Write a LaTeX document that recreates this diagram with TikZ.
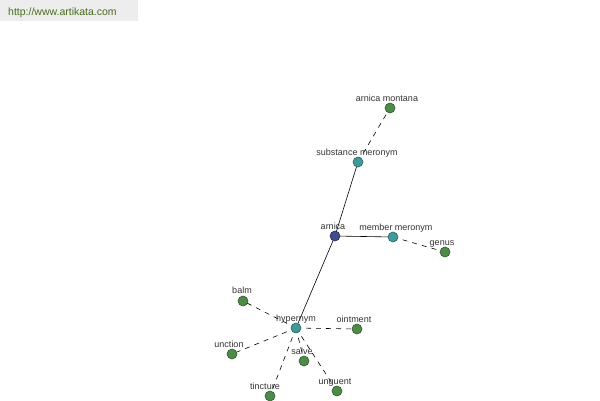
\documentclass[tikz,border=0pt]{standalone}
\usepackage{fontspec}
\setmainfont{Liberation Sans}
\definecolor{gnode}{HTML}{4E8A48}
\definecolor{gedge}{HTML}{2F5A2C}
\definecolor{tnode}{HTML}{3F9A9A}
\definecolor{tedge}{HTML}{2A6464}
\definecolor{bnode}{HTML}{404C8E}
\definecolor{bedge}{HTML}{262E5E}
\definecolor{lbl}{HTML}{333333}
\definecolor{hdr}{HTML}{4A6A20}
\tikzset{
  dot/.style={circle,inner sep=0pt,minimum size=10pt,line width=0.6pt},
  gdot/.style={dot,fill=gnode,draw=gedge},
  tdot/.style={dot,fill=tnode,draw=tedge},
  bdot/.style={dot,fill=bnode,draw=bedge},
  lab/.style={font=\fontsize{9}{9}\selectfont,text=lbl,inner sep=0pt,anchor=base},
  solidedge/.style={draw=black,line width=0.6pt},
  dashedge/.style={draw=black,line width=0.6pt,dashed,dash pattern=on 5pt off 5pt},
}
\begin{document}
\begin{tikzpicture}[x=1pt,y=-1pt]
\useasboundingbox (0,0) rectangle (600,400);
\fill[white] (0,0) rectangle (600,400);
\fill[black!7] (0,0) rectangle (138,21);
\node[font=\fontsize{10.5}{10.5}\selectfont,text=hdr,anchor=base west,inner sep=0pt] (hdrtext) at (8,15) {http://www.artikata.com};

% edges first
\coordinate (arnica) at (335,236);
\coordinate (subm) at (358,162);
\coordinate (arnm) at (390,108);
\coordinate (memm) at (393,237);
\coordinate (genus) at (445,252);
\coordinate (hyp) at (296,328);
\coordinate (balm) at (243,301);
\coordinate (oint) at (357,329);
\coordinate (unct) at (232,354);
\coordinate (salve) at (304,361);
\coordinate (tinct) at (270,396);
\coordinate (ungu) at (337,391);

\draw[solidedge] (arnica) -- (subm);
\draw[solidedge] (arnica) -- (memm);
\draw[solidedge] (arnica) -- (hyp);
\draw[dashedge] (subm) -- (arnm);
\draw[dashedge] (memm) -- (genus);
\draw[dashedge] (hyp) -- (balm);
\draw[dashedge] (hyp) -- (oint);
\draw[dashedge] (hyp) -- (unct);
\draw[dashedge] (hyp) -- (salve);
\draw[dashedge] (hyp) -- (tinct);
\draw[dashedge] (hyp) -- (ungu);

\node[bdot] (narnica) at (arnica) {};
\node[tdot] (nsubm) at (subm) {};
\node[gdot] (narnm) at (arnm) {};
\node[tdot] (nmemm) at (memm) {};
\node[gdot] (ngenus) at (genus) {};
\node[tdot] (nhyp) at (hyp) {};
\node[gdot] (nbalm) at (balm) {};
\node[gdot] (noint) at (oint) {};
\node[gdot] (nunct) at (unct) {};
\node[gdot] (nsalve) at (salve) {};
\node[gdot] (ntinct) at (tinct) {};
\node[gdot] (nungu) at (ungu) {};

\node[lab] (larnm) at (387,101) {arnica montana};
\node[lab] (lsubm) at (357,155) {substance meronym};
\node[lab] (larnica) at (333,229) {arnica};
\node[lab] (lmemm) at (396,230) {member meronym};
\node[lab] (lgenus) at (442,245) {genus};
\node[lab] (lbalm) at (242,293) {balm};
\node[lab] (lhyp) at (296,321) {hypernym};
\node[lab] (loint) at (354,322) {ointment};
\node[lab] (lunct) at (229,347) {unction};
\node[lab] (lsalve) at (302,354) {salve};
\node[lab] (ltinct) at (265,389) {tincture};
\node[lab] (lungu) at (335,384) {unguent};
\end{tikzpicture}
\end{document}
